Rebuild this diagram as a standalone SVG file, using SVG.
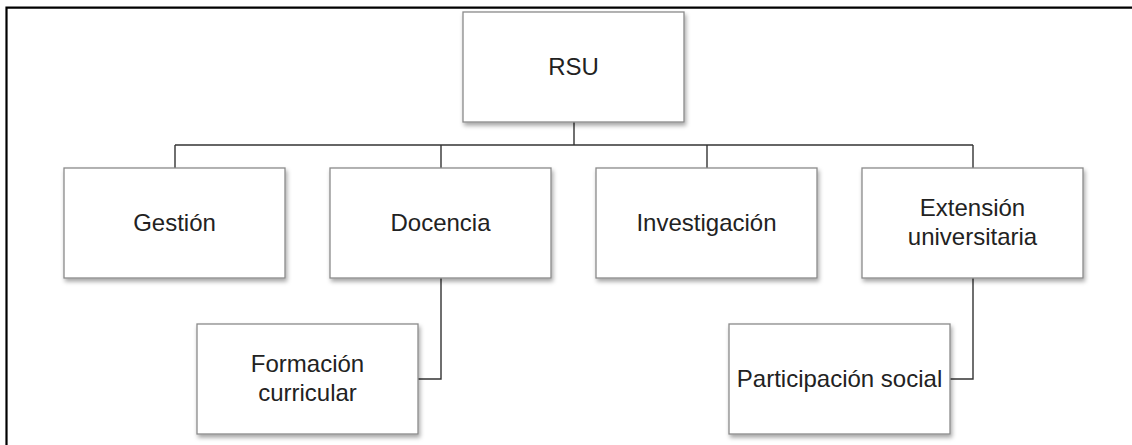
<svg xmlns="http://www.w3.org/2000/svg" width="1132" height="445" viewBox="0 0 1132 445">
  <style>
    .box { fill: #ffffff; stroke: #8a8a8a; stroke-width: 1.3; filter: url(#shadow); }
    .label { font-family: "Liberation Sans", Arial, sans-serif; font-size: 24px; fill: #222222; text-anchor: middle; }
    .conn { fill: none; stroke: #333333; stroke-width: 1.4; }
    .frame { fill: none; stroke: #000000; stroke-width: 2.2; }
  </style>
  <defs>
    <filter id="shadow" x="-10%" y="-10%" width="125%" height="135%">
      <feDropShadow dx="1.5" dy="3" stdDeviation="2" flood-color="#000000" flood-opacity="0.35"/>
    </filter>
  </defs>

  <rect width="1132" height="445" fill="#ffffff"/>

  <!-- open frame: top and left edges -->
  <path class="frame" d="M6.5,445 V7.6 H1132"/>

  <!-- connectors -->
  <g id="connectors">
    <path class="conn" d="M574,122 V145"/>
    <path class="conn" d="M175,145 H973"/>
    <path class="conn" d="M175,145 V168"/>
    <path class="conn" d="M441,145 V168"/>
    <path class="conn" d="M707,145 V168"/>
    <path class="conn" d="M973,145 V168"/>
    <path class="conn" d="M441,278 V379 H418"/>
    <path class="conn" d="M973,278 V379 H950"/>
  </g>

  <g id="node-rsu">
    <rect class="box" x="463" y="12" width="221" height="110"/>
    <text class="label" x="573.5" y="75">RSU</text>
  </g>

  <g id="node-gestion">
    <rect class="box" x="64" y="168" width="221" height="110"/>
    <text class="label" x="174.5" y="231">Gestión</text>
  </g>

  <g id="node-docencia">
    <rect class="box" x="330" y="168" width="221" height="110"/>
    <text class="label" x="440.5" y="231">Docencia</text>
  </g>

  <g id="node-investigacion">
    <rect class="box" x="596" y="168" width="221" height="110"/>
    <text class="label" x="706.5" y="231">Investigación</text>
  </g>

  <g id="node-extension">
    <rect class="box" x="862" y="168" width="221" height="110"/>
    <text class="label" x="972.5" y="216">Extensión</text>
    <text class="label" x="972.5" y="245">universitaria</text>
  </g>

  <g id="node-formacion">
    <rect class="box" x="197" y="324" width="221" height="110"/>
    <text class="label" x="307.5" y="372">Formación</text>
    <text class="label" x="307.5" y="401">curricular</text>
  </g>

  <g id="node-participacion">
    <rect class="box" x="729" y="324" width="221" height="110"/>
    <text class="label" x="839.5" y="387">Participación social</text>
  </g>
</svg>
